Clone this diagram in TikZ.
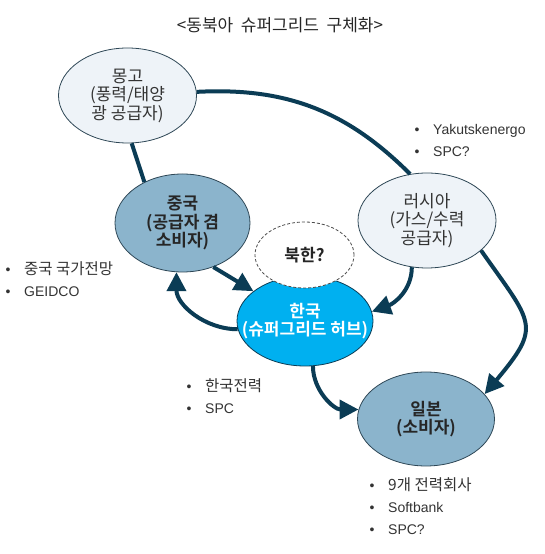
\documentclass[tikz,border=0pt]{standalone}
\usepackage{fontspec}
\setmainfont{Liberation Sans}
\newfontfamily\kr{Noto Sans CJK KR}[BoldFont={Noto Sans CJK KR Bold}]
\usetikzlibrary{shapes.geometric}
\usetikzlibrary{arrows.meta}
\definecolor{lightfill}{HTML}{EEF3F8}
\definecolor{steelfill}{HTML}{8BB4CC}
\definecolor{hubfill}{HTML}{00B0F0}
\definecolor{linkcol}{HTML}{0B3C55}
\definecolor{rimcol}{HTML}{2E4756}
\definecolor{txtcol}{HTML}{333333}
\newcommand{\bitem}[1]{\makebox[18.5pt][l]{•}#1}
\newcommand{\krlist}{\kr\fontsize{15.5}{22}\selectfont}

\begin{document}
\begin{tikzpicture}[x=1pt,y=1pt]
\tikzset{country/.style={ellipse, draw=rimcol, line width=0.8pt, inner sep=0pt, align=center, text=txtcol, font=\kr\fontsize{17}{18.5}\selectfont}}
\tikzset{supplier/.style={country, fill=lightfill}}
\tikzset{consumer/.style={country, fill=steelfill, text=black!85, font=\kr\bfseries\fontsize{17}{18.5}\selectfont}}
\tikzset{hub/.style={country, fill=hubfill, draw=linkcol, text=white, inner xsep=-16pt, font=\kr\bfseries\fontsize{17}{18.5}\selectfont}}
\tikzset{link/.style={draw=linkcol, line width=4pt}}
\tikzset{flow/.style={link, -{Triangle[length=19pt,width=19pt]}}}
\tikzset{list/.style={anchor=west, align=left, inner sep=0pt, text=txtcol, font=\fontsize{14}{22}\selectfont}}
\useasboundingbox (0,0) rectangle (545,554);

\node[text=black!85, font=\kr\fontsize{17}{19}\selectfont] (title) at (280,529) {<동북아\ \ 슈퍼그리드\ \ 구체화>};

\node[supplier, minimum width=138pt, minimum height=95pt] (mongolia) at (127.5,458.5) {몽고\\(풍력/태양\\광 공급자)};
\node[consumer, minimum width=135pt, minimum height=98pt] (china) at (182.5,331) {중국\\(공급자 겸\\소비자)};
\node[supplier, minimum width=138pt, minimum height=95pt] (russia) at (427,333.5) {러시아\\(가스/수력\\공급자)};
\node[hub, minimum width=136pt, minimum height=90pt] (korea) at (305,233) {한국\\(슈퍼그리드 허브)};
\node[ellipse, draw=black!70, dash pattern=on 3pt off 2pt, line width=0.8pt, fill=white, minimum width=99pt, minimum height=66pt, text=black!85, font=\kr\bfseries\fontsize{17}{18.5}\selectfont] (nkorea) at (304.5,299) {북한?};
\node[consumer, minimum width=137pt, minimum height=94pt] (japan) at (426,135) {일본\\(소비자)};

\draw[link] (mongolia.3) to[out=3,in=135] (russia.110);
\draw[link] (mongolia.-85) -- (china.133);
\draw[flow] (china.-55) -- (korea.150);
\draw[flow] (korea.187) to[out=180,in=-90] (china.263);
\draw[flow] (russia.-108) to[out=-90,in=20] (korea.8);
\draw[flow] (russia.-29) to[out=-55,in=50,looseness=1.6] (japan.23);
\draw[flow] (korea.-80) to[out=-90,in=180] (japan.172);

\node[list] (russialist) at (414.5,413) {\bitem{Yakutskenergo}\\\bitem{SPC?}};
\node[list] (chinalist) at (5.5,275) {\bitem{\krlist 중국 국가전망}\\\bitem{GEIDCO}};
\node[list] (korealist) at (186.5,158) {\bitem{\krlist 한국전력}\\\bitem{SPC}};
\node[list] (japanlist) at (369.5,48) {\bitem{\krlist 9개 전력회사}\\\bitem{Softbank}\\\bitem{SPC?}};
\end{tikzpicture}
\end{document}
